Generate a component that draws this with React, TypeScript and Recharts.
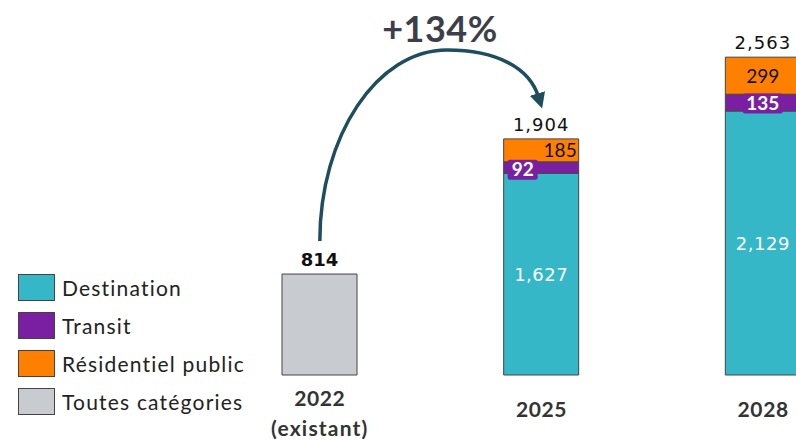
import { BarChart, Bar, XAxis, YAxis, LabelList } from "recharts";

const categories = ["2022", "2025", "2028"];
const tickNotes = ["(existant)", "", ""];
const toutes = [814, 0, 0];
const destination = [0, 1627, 2129];
const transit = [0, 92, 135];
const residentiel = [0, 185, 299];
const totals = [814, 1904, 2563];
const growthLabel = "+134%";

const seriesNames = ["Destination", "Transit", "Résidentiel public", "Toutes catégories"];
const colors = ["#35B7C7", "#7B1FA2", "#FF8000", "#C8CBD0"];

const data = categories.map((c, i) => ({
  year: c,
  toutes: toutes[i] || undefined,
  destination: destination[i] || undefined,
  transit: transit[i] || undefined,
  residentiel: residentiel[i] || undefined,
  total: totals[i],
}));

// layout
const W = 880;
const H = 441;
const M = { top: 0, right: 6, left: 209, bottom: 0 };
const AXIS_H = 66;
const Y_MAX = 3024;
const BAR_W = 75;

const plotW = W - M.left - M.right;
const plotH = H - M.top - M.bottom - AXIS_H;
const band = plotW / categories.length;
const xCenter = (i: number) => M.left + band * (i + 0.5);
const yOf = (v: number) => M.top + plotH - (v / Y_MAX) * plotH;

const numFont = "'DejaVu Sans', Verdana, sans-serif";
const textFont = "Lato, 'Open Sans', sans-serif";

function YearTick(props: any) {
  const { x, payload } = props;
  const i = categories.indexOf(payload.value);
  const note = tickNotes[i];
  const base = M.top + plotH;
  return (
    <g fontFamily={textFont} fontWeight={700} fontSize={21} fill="#333" letterSpacing={0.6}>
      <text x={x} y={base + (note ? 31 : 42)} textAnchor="middle">
        {payload.value}
      </text>
      {note && (
        <text x={x} y={base + 61} textAnchor="middle" letterSpacing={1.2}>
          {note}
        </text>
      )}
    </g>
  );
}

// total on top of each stack
function TotalLabel(props: any) {
  const { x, y, width, height, value, bold } = props;
  if (!height || !value) return null;
  return (
    <text
      x={x + width / 2}
      y={y - 8}
      textAnchor="middle"
      fontFamily={numFont}
      fontWeight={bold ? 700 : 400}
      fontSize={18}
      letterSpacing={bold ? 0 : 1}
      fill="#111"
    >
      {Number(value).toLocaleString("en-US")}
    </text>
  );
}

function DestLabel(props: any) {
  const { x, y, width, height, value } = props;
  if (!value) return null;
  return (
    <text
      x={x + width / 2}
      y={y + height / 2 + 7}
      textAnchor="middle"
      fontFamily={numFont}
      fontSize={18}
      letterSpacing={0.5}
      fill="#fff"
    >
      {Number(value).toLocaleString("en-US")}
    </text>
  );
}

function TransitLabel(props: any) {
  const { x, y, width, height, value } = props;
  if (!value) return null;
  const narrow = height < 14;
  const bw = narrow ? 30 : 40;
  const bh = 20;
  const bx = narrow ? x + 4 : x + width / 2 - bw / 2;
  const by = narrow ? y - 2 : y + height / 2 - bh / 2 + 1;
  return (
    <g>
      <rect x={bx} y={by} width={bw} height={bh} rx={2} fill={colors[1]} />
      <text
        x={bx + bw / 2}
        y={by + bh / 2 + 6.5}
        textAnchor="middle"
        fontFamily={textFont}
        fontWeight={700}
        fontSize={19}
        fill="#fff"
      >
        {value}
      </text>
    </g>
  );
}

function ResLabel(props: any) {
  const { x, y, width, height, value } = props;
  if (!value) return null;
  const tight = height < 30;
  return (
    <text
      x={tight ? x + width - 2 : x + width / 2}
      y={y + height / 2 + 7}
      textAnchor={tight ? "end" : "middle"}
      fontFamily={textFont}
      fontSize={19}
      fill="#111"
    >
      {value}
    </text>
  );
}

function LegendBox() {
  const order = [0, 1, 2, 3];
  return (
    <div style={{ position: "absolute", left: 18, top: 274, display: "flex", flexDirection: "column", gap: 11 }}>
      {order.map((k) => (
        <div key={k} style={{ display: "flex", alignItems: "center", height: 27 }}>
          <div
            style={{
              width: 37,
              height: 27,
              background: colors[k],
              border: "1px solid #444",
              boxSizing: "border-box",
              marginRight: 7,
            }}
          />
          <span style={{ fontFamily: textFont, fontSize: 21, letterSpacing: 1.2, color: "#222" }}>{seriesNames[k]}</span>
        </div>
      ))}
    </div>
  );
}

function GrowthArrow() {
  const sx = xCenter(0);
  const sy = yOf(totals[0]) - 33;
  const ex = xCenter(1) + 6;
  const ey = yOf(totals[1]) - 31;
  const px = 447;
  const py = 50;
  const d =
    `M ${sx} ${sy} C ${sx} ${sy - 0.55 * (sy - py)}, ${px - 0.55 * (px - sx)} ${py}, ${px} ${py} ` +
    `C ${px + 50} ${py}, ${ex - 18} ${py + 18}, ${ex - 9} ${ey - 11}`;
  return (
    <svg width={W} height={H} style={{ position: "absolute", left: 0, top: 0, pointerEvents: "none" }}>
      <defs>
        <marker id="head" markerWidth="4.5" markerHeight="4.5" refX="1" refY="2.25" orient="auto" markerUnits="strokeWidth">
          <path d="M0,0 L4.5,2.25 L0,4.5 Z" fill="#1E4D5E" />
        </marker>
      </defs>
      <path d={d} fill="none" stroke="#1E4D5E" strokeWidth={3.5} markerEnd="url(#head)" />
      <text
        x={440}
        y={42}
        textAnchor="middle"
        fontFamily={textFont}
        fontWeight={700}
        fontSize={36}
        letterSpacing={0.5}
        fill="#3C3F4A"
      >
        {growthLabel}
      </text>
    </svg>
  );
}

export default function App() {
  return (
    <div style={{ position: "absolute", left: 0, top: 0, width: 796, height: 441, overflow: "hidden", background: "#fff" }}>
      <BarChart width={W} height={H} data={data} margin={M} barSize={BAR_W}>
        <XAxis
          dataKey="year"
          axisLine={false}
          tickLine={false}
          height={AXIS_H}
          interval={0}
          tick={<YearTick />}
        />
        <YAxis hide domain={[0, Y_MAX]} />
        <Bar dataKey="toutes" stackId="a" fill={colors[3]} stroke="#444" strokeWidth={1} isAnimationActive={false}>
          <LabelList dataKey="total" content={<TotalLabel bold />} />
        </Bar>
        <Bar dataKey="destination" stackId="a" fill={colors[0]} stroke="#444" strokeWidth={1} isAnimationActive={false}>
          <LabelList dataKey="destination" content={<DestLabel />} />
        </Bar>
        <Bar dataKey="transit" stackId="a" fill={colors[1]} stroke="#444" strokeWidth={1} isAnimationActive={false}>
          <LabelList dataKey="transit" content={<TransitLabel />} />
        </Bar>
        <Bar dataKey="residentiel" stackId="a" fill={colors[2]} stroke="#444" strokeWidth={1} isAnimationActive={false}>
          <LabelList dataKey="residentiel" content={<ResLabel />} />
          <LabelList dataKey="total" content={<TotalLabel />} />
        </Bar>
      </BarChart>
      <GrowthArrow />
      <LegendBox />
    </div>
  );
}
